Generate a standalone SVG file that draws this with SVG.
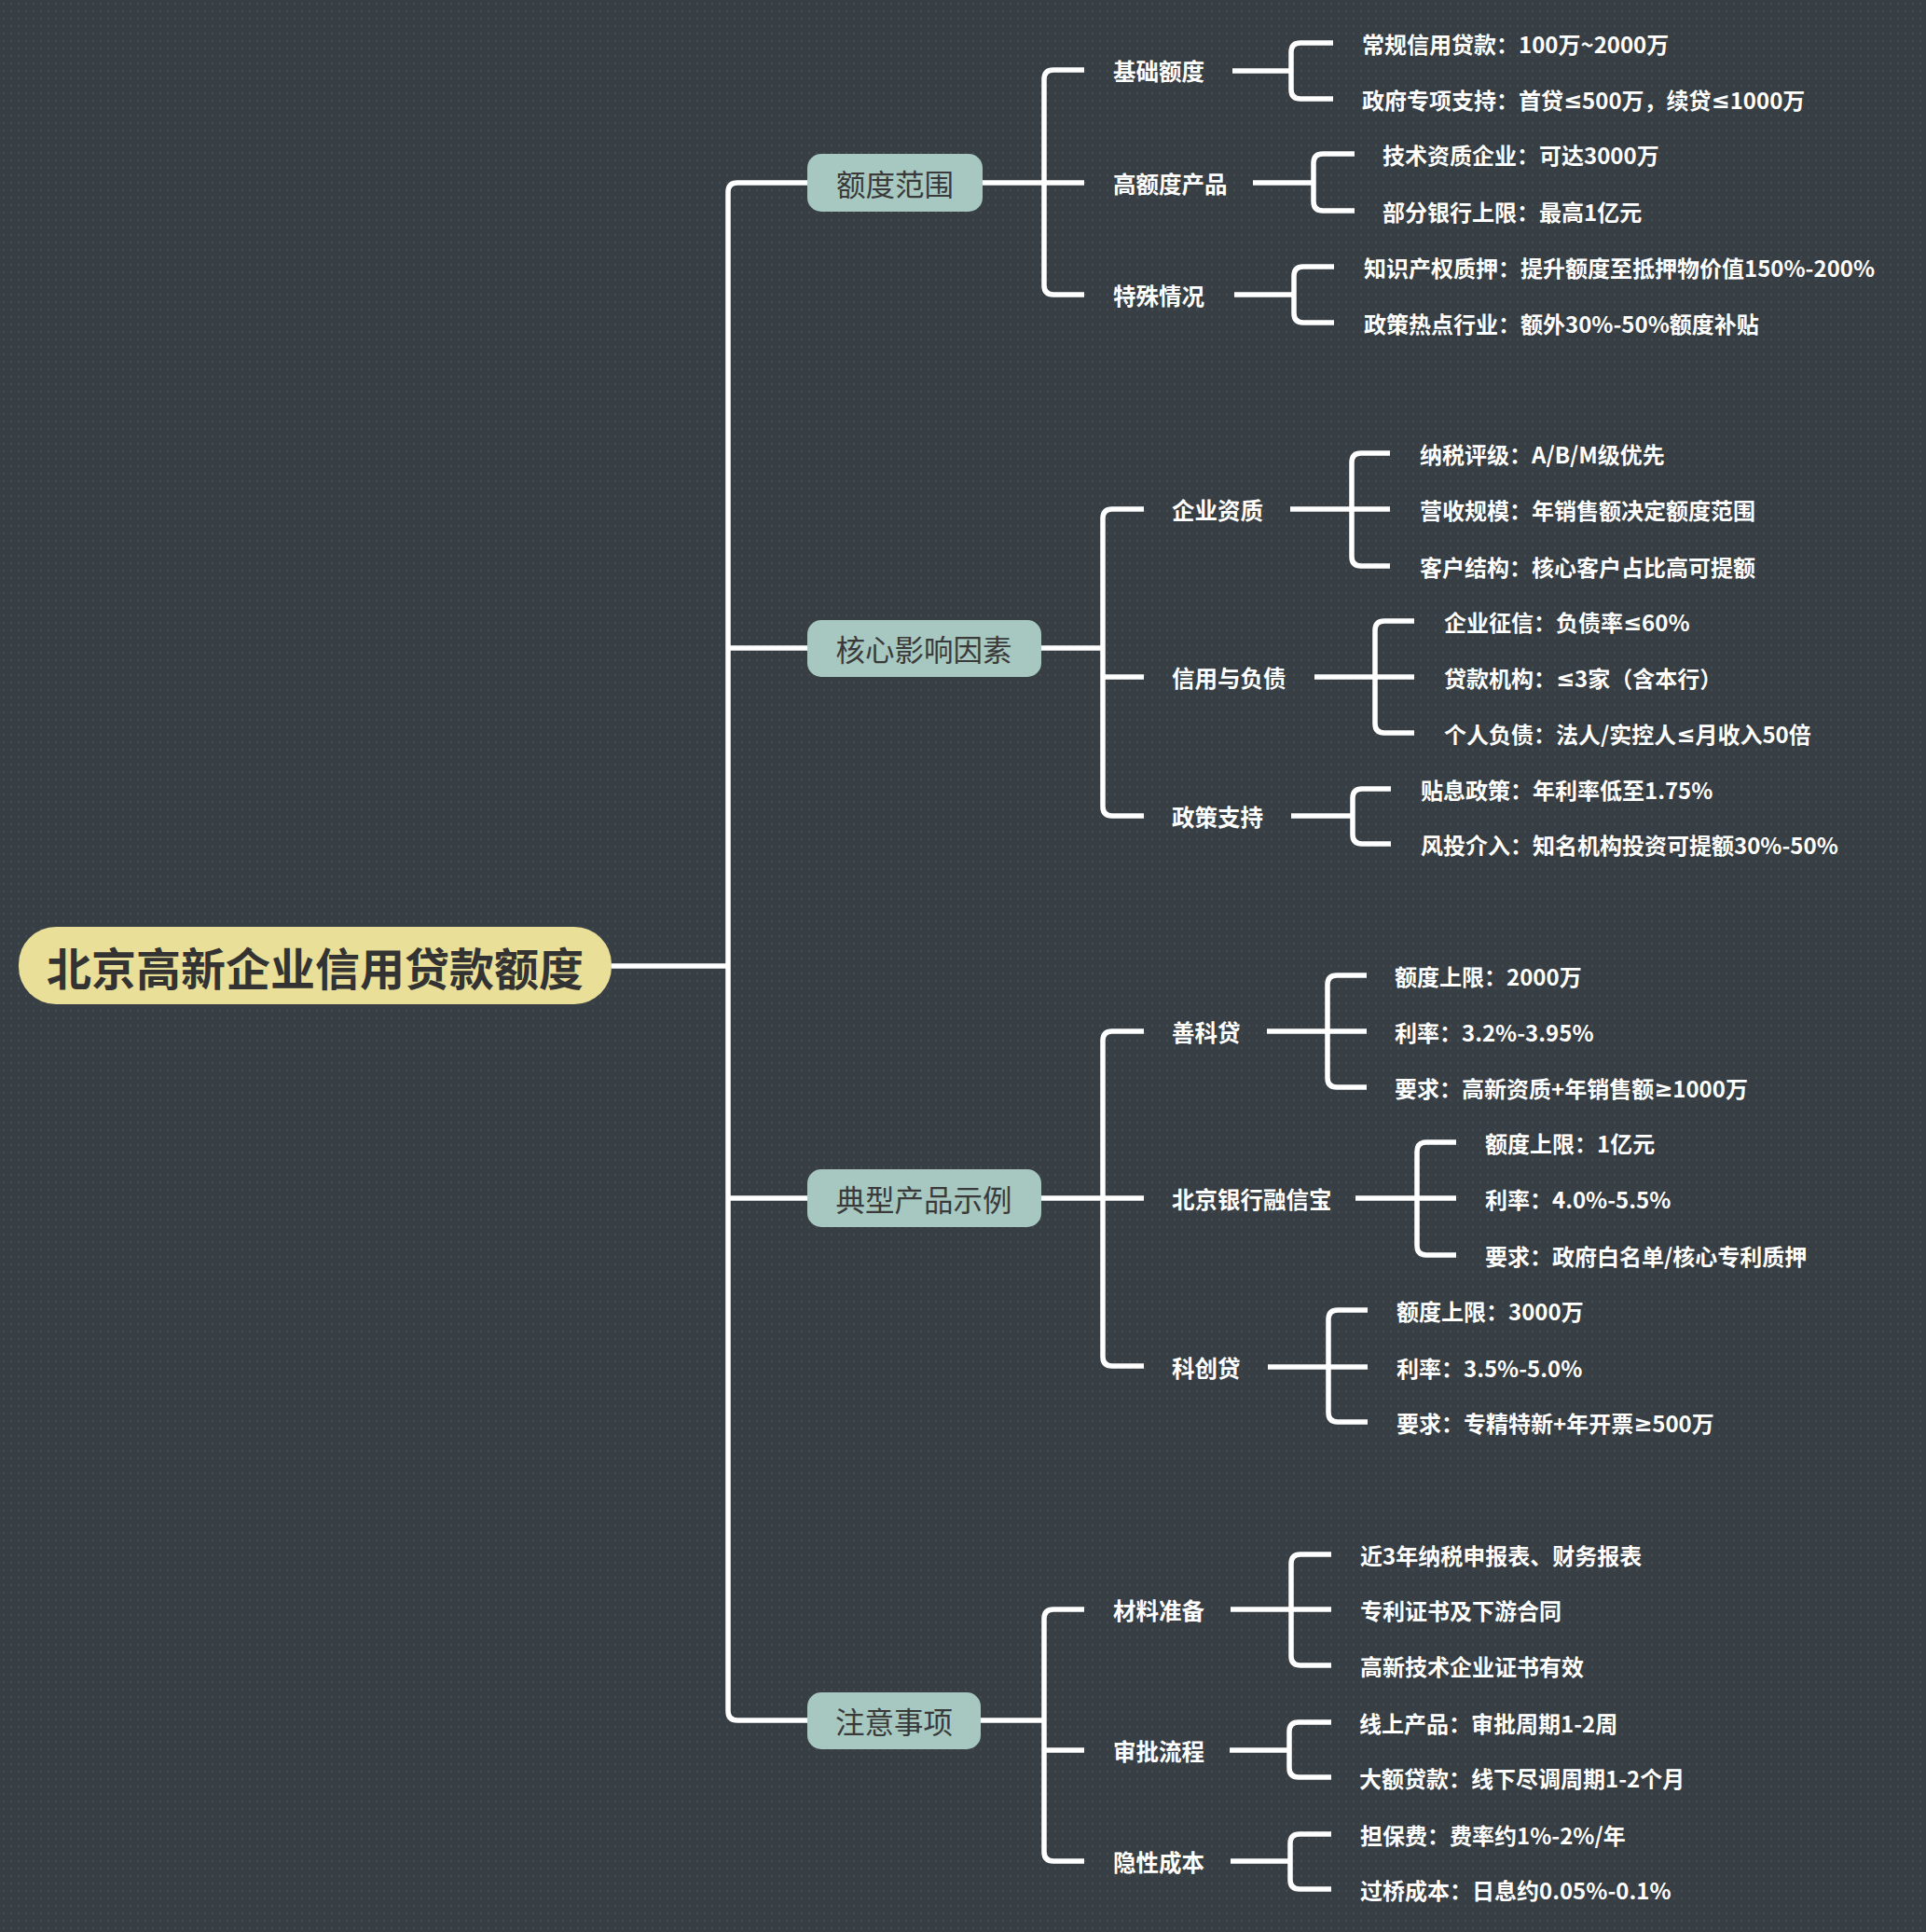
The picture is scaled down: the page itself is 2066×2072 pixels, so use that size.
<svg xmlns="http://www.w3.org/2000/svg" width="2066" height="2072" viewBox="0 0 2066 2072">
<defs>
<pattern id="dots" width="8" height="8" patternUnits="userSpaceOnUse">
<rect width="8" height="8" fill="#383f44"/>
<circle cx="4" cy="4" r="1.2" fill="#434a50"/>
</pattern>
<style>
.ln{stroke:#ffffff;stroke-width:5.5;fill:none;stroke-linejoin:round}
.root{fill:#e9df98}
.b1{fill:#a6c8c0}
.tr{font-family:"Noto Sans CJK SC","Noto Sans",sans-serif;font-weight:700;font-size:48px;fill:#333333;text-anchor:middle;dominant-baseline:central}
.t1{font-family:"Noto Sans CJK SC","Noto Sans",sans-serif;font-weight:400;font-size:31.5px;fill:#3a3a3a;text-anchor:middle;dominant-baseline:central}
.t2{font-family:"Noto Sans CJK SC","Noto Sans",sans-serif;font-weight:700;font-size:24.5px;fill:#ffffff;dominant-baseline:central}
.t3{font-family:"Noto Sans CJK SC","Noto Sans",sans-serif;font-weight:700;font-size:24px;fill:#ffffff;dominant-baseline:central}
.m{font-family:"Noto Sans","DejaVu Sans",sans-serif}
</style>
</defs>
<rect width="2066" height="2072" fill="url(#dots)"/>

<g id="connectors">
<path class="ln" d="M656 1036 H781"/>
<path class="ln" d="M866 196 H791 Q781 196 781 206 V1835 Q781 1845 791 1845 H866"/>
<path class="ln" d="M781 695 H866"/>
<path class="ln" d="M781 1285 H866"/>
<path class="ln" d="M1054 196 H1163"/>
<path class="ln" d="M1163 75 H1130 Q1120 75 1120 85 V306 Q1120 316 1130 316 H1163"/>
<path class="ln" d="M1322 76 H1385"/>
<path class="ln" d="M1430 46 H1395 Q1385 46 1385 56 V96 Q1385 106 1395 106 H1430"/>
<path class="ln" d="M1344 196 H1409"/>
<path class="ln" d="M1453 165 H1419 Q1409 165 1409 175 V216 Q1409 226 1419 226 H1453"/>
<path class="ln" d="M1324 316 H1388"/>
<path class="ln" d="M1431 286 H1398 Q1388 286 1388 296 V336 Q1388 346 1398 346 H1431"/>
<path class="ln" d="M1117 695 H1183"/>
<path class="ln" d="M1227 546 H1193 Q1183 546 1183 556 V865 Q1183 875 1193 875 H1227"/>
<path class="ln" d="M1183 726 H1227"/>
<path class="ln" d="M1384 546 H1491"/>
<path class="ln" d="M1491 486 H1460 Q1450 486 1450 496 V597 Q1450 607 1460 607 H1491"/>
<path class="ln" d="M1410 726 H1517"/>
<path class="ln" d="M1517 666 H1485 Q1475 666 1475 676 V776 Q1475 786 1485 786 H1517"/>
<path class="ln" d="M1385 875 H1451"/>
<path class="ln" d="M1492 846 H1461 Q1451 846 1451 856 V895 Q1451 905 1461 905 H1492"/>
<path class="ln" d="M1117 1285 H1227"/>
<path class="ln" d="M1227 1106 H1193 Q1183 1106 1183 1116 V1455 Q1183 1465 1193 1465 H1227"/>
<path class="ln" d="M1359 1106 H1466"/>
<path class="ln" d="M1466 1046 H1434 Q1424 1046 1424 1056 V1156 Q1424 1166 1434 1166 H1466"/>
<path class="ln" d="M1454 1285 H1562"/>
<path class="ln" d="M1562 1225 H1530 Q1520 1225 1520 1235 V1336 Q1520 1346 1530 1346 H1562"/>
<path class="ln" d="M1360 1466 H1467"/>
<path class="ln" d="M1467 1405 H1435 Q1425 1405 1425 1415 V1515 Q1425 1525 1435 1525 H1467"/>
<path class="ln" d="M1052 1845 H1120"/>
<path class="ln" d="M1163 1726 H1130 Q1120 1726 1120 1736 V1986 Q1120 1996 1130 1996 H1163"/>
<path class="ln" d="M1120 1877 H1163"/>
<path class="ln" d="M1320 1726 H1428"/>
<path class="ln" d="M1428 1667 H1395 Q1385 1667 1385 1677 V1776 Q1385 1786 1395 1786 H1428"/>
<path class="ln" d="M1319 1877 H1383"/>
<path class="ln" d="M1428 1847 H1393 Q1383 1847 1383 1857 V1896 Q1383 1906 1393 1906 H1428"/>
<path class="ln" d="M1320 1996 H1384"/>
<path class="ln" d="M1428 1967 H1394 Q1384 1967 1384 1977 V2016 Q1384 2026 1394 2026 H1428"/>
</g>

<g id="root">
<rect class="root" x="20" y="994" width="636" height="83" rx="40"/>
<text class="tr" x="338" y="1036">北京高新企业信用贷款额度</text>
</g>

<g id="n-edfw">
<rect class="b1" x="866" y="165" width="188" height="62" rx="15"/>
<text class="t1" x="960" y="196">额度范围</text>
</g>
<g id="n-hxyx">
<rect class="b1" x="866" y="665" width="251" height="61" rx="15"/>
<text class="t1" x="991" y="695">核心影响因素</text>
</g>
<g id="n-dxcp">
<rect class="b1" x="866" y="1254" width="251" height="62" rx="15"/>
<text class="t1" x="991" y="1285">典型产品示例</text>
</g>
<g id="n-zysx">
<rect class="b1" x="866" y="1815" width="186" height="61" rx="15"/>
<text class="t1" x="959" y="1845">注意事项</text>
</g>

<g id="g1-children">
<g id="n-jced"><text class="t2" x="1194" y="75">基础额度</text>
<text class="t3" x="1461" y="46">常规信用贷款：100万~2000万</text>
<text class="t3" x="1461" y="106">政府专项支持：首贷<tspan class="m">≤</tspan>500万，续贷<tspan class="m">≤</tspan>1000万</text></g>
<g id="n-gedcp"><text class="t2" x="1194" y="196">高额度产品</text>
<text class="t3" x="1483" y="165">技术资质企业：可达3000万</text>
<text class="t3" x="1483" y="226">部分银行上限：最高1亿元</text></g>
<g id="n-tsqk"><text class="t2" x="1194" y="316">特殊情况</text>
<text class="t3" x="1463" y="286">知识产权质押：提升额度至抵押物价值150%-200%</text>
<text class="t3" x="1463" y="346">政策热点行业：额外30%-50%额度补贴</text></g>
</g>

<g id="g2-children">
<g id="n-qyzz"><text class="t2" x="1257" y="546">企业资质</text>
<text class="t3" x="1523" y="486">纳税评级：A/B/M级优先</text>
<text class="t3" x="1523" y="546">营收规模：年销售额决定额度范围</text>
<text class="t3" x="1523" y="607">客户结构：核心客户占比高可提额</text></g>
<g id="n-xyfz"><text class="t2" x="1257" y="726">信用与负债</text>
<text class="t3" x="1549" y="666">企业征信：负债率<tspan class="m">≤</tspan>60%</text>
<text class="t3" x="1549" y="726">贷款机构：<tspan class="m">≤</tspan>3家（含本行）</text>
<text class="t3" x="1549" y="786">个人负债：法人/实控人<tspan class="m">≤</tspan>月收入50倍</text></g>
<g id="n-zczc"><text class="t2" x="1257" y="875">政策支持</text>
<text class="t3" x="1524" y="846">贴息政策：年利率低至1.75%</text>
<text class="t3" x="1524" y="905">风投介入：知名机构投资可提额30%-50%</text></g>
</g>

<g id="g3-children">
<g id="n-skd"><text class="t2" x="1257" y="1106">善科贷</text>
<text class="t3" x="1496" y="1046">额度上限：2000万</text>
<text class="t3" x="1496" y="1106">利率：3.2%-3.95%</text>
<text class="t3" x="1496" y="1166">要求：高新资质+年销售额<tspan class="m">≥</tspan>1000万</text></g>
<g id="n-rxb"><text class="t2" x="1257" y="1285">北京银行融信宝</text>
<text class="t3" x="1593" y="1225">额度上限：1亿元</text>
<text class="t3" x="1593" y="1285">利率：4.0%-5.5%</text>
<text class="t3" x="1593" y="1346">要求：政府白名单/核心专利质押</text></g>
<g id="n-kcd"><text class="t2" x="1257" y="1466">科创贷</text>
<text class="t3" x="1498" y="1405">额度上限：3000万</text>
<text class="t3" x="1498" y="1466">利率：3.5%-5.0%</text>
<text class="t3" x="1498" y="1525">要求：专精特新+年开票<tspan class="m">≥</tspan>500万</text></g>
</g>

<g id="g4-children">
<g id="n-clzb"><text class="t2" x="1194" y="1726">材料准备</text>
<text class="t3" x="1459" y="1667">近3年纳税申报表、财务报表</text>
<text class="t3" x="1459" y="1726">专利证书及下游合同</text>
<text class="t3" x="1459" y="1786">高新技术企业证书有效</text></g>
<g id="n-splc"><text class="t2" x="1194" y="1877">审批流程</text>
<text class="t3" x="1458" y="1847">线上产品：审批周期1-2周</text>
<text class="t3" x="1458" y="1906">大额贷款：线下尽调周期1-2个月</text></g>
<g id="n-yxcb"><text class="t2" x="1194" y="1996">隐性成本</text>
<text class="t3" x="1459" y="1967">担保费：费率约1%-2%/年</text>
<text class="t3" x="1459" y="2026">过桥成本：日息约0.05%-0.1%</text></g>
</g>
</svg>
